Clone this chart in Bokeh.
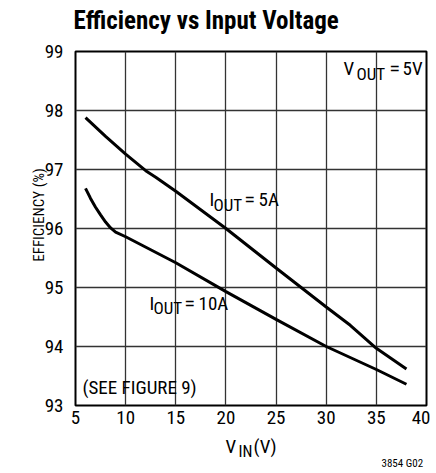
from bokeh.plotting import figure
from bokeh.models import Label, Range1d, FixedTicker
from bokeh.layouts import column
from bokeh.embed import file_html
from bokeh.resources import INLINE

# ---- data ----
vin_5a = [6, 8, 10, 12, 13, 14, 15, 20, 25, 30, 32.4, 35, 38]
eff_5a = [97.88, 97.56, 97.26, 96.98, 96.87, 96.75, 96.63, 96.0, 95.33, 94.67, 94.36, 93.97, 93.62]

vin_10a = [6, 6.5, 7, 7.5, 8, 8.5, 9, 10, 15, 20, 25, 30, 35, 38]
eff_10a = [96.68, 96.51, 96.36, 96.23, 96.11, 96.01, 95.94, 95.86, 95.42, 94.93, 94.46, 94.0, 93.61, 93.36]

x_ticks = [5, 10, 15, 20, 25, 30, 35, 40]
y_ticks = [93, 94, 95, 96, 97, 98, 99]

title_text = "Efficiency vs Input Voltage"
y_title = "EFFICIENCY (%)"

FONT = "Roboto Condensed"
EQF = "Roboto"
LIFT = 0.36  # measured vertical correction of label text placement (fraction of font size)


def lift(size):
    return LIFT * float(size.replace("px", ""))


# ---- title strip ----
t = figure(width=430, height=40, output_backend="svg", toolbar_location=None, min_border=0,
           title=None, x_range=Range1d(0, 430), y_range=Range1d(40, 0))
t.axis.visible = False
t.grid.visible = False
t.outline_line_color = None
if "frame_align" in t.properties():
    t.frame_align = False
else:
    t.x_range = Range1d(75, 426)
t.add_layout(Label(x=73, y=29 - lift("25px"), text=title_text, text_font=FONT,
                   text_font_style="bold", text_font_size="25px", text_color="black",
                   text_baseline="alphabetic"))

# ---- main plot ----
p = figure(width=430, height=396, output_backend="svg", toolbar_location=None, title=None,
           x_range=Range1d(5, 40), y_range=Range1d(93, 99),
           min_border_left=75, min_border_right=4, min_border_top=11, min_border_bottom=31)
p.outline_line_color = "black"
p.outline_line_width = 2
p.background_fill_color = "white"
p.border_fill_color = "white"

for ax in (p.xaxis, p.yaxis):
    ax.major_tick_in = 0
    ax.major_tick_out = 0
    ax.minor_tick_in = 0
    ax.minor_tick_out = 0
    ax.axis_line_color = None
    ax.major_label_text_font = FONT
    ax.major_label_text_font_size = "19px"
    ax.major_label_text_color = "black"
p.xaxis.ticker = FixedTicker(ticks=x_ticks)
p.yaxis.ticker = FixedTicker(ticks=y_ticks)
p.xaxis.major_label_standoff = 5
p.yaxis.major_label_standoff = 12
p.yaxis.axis_label = "\u2002\u2002\u2002\u2002" + y_title
p.yaxis.axis_label_text_font = FONT
p.yaxis.axis_label_text_font_size = "15px"
p.yaxis.axis_label_text_font_style = "normal"
p.yaxis.axis_label_text_color = "black"
p.yaxis.axis_label_standoff = -6

p.grid.grid_line_color = "#333333"
p.grid.grid_line_width = 1.3

p.line(vin_5a, eff_5a, line_color="black", line_width=3)
p.line(vin_10a, eff_10a, line_color="black", line_width=3)

# reference pixel -> data helpers for text placement
def X(px):
    return 5 + (px - 75) * 35 / 351

def Y(py):
    return 99 - (py - 51) * 6 / 354

pieces = [
    # V_OUT = 5V
    ("V", 343, 75, "19px", FONT), ("OUT", 356, 80, "17px", FONT),
    ("=", 389, 75, "19px", EQF), ("5V", 402, 75, "19px", FONT),
    # I_OUT = 5A
    ("I", 209, 206, "19px", FONT), ("OUT", 213, 211, "17px", FONT),
    ("=", 244, 206, "19px", EQF), ("5A", 258, 206, "19px", FONT),
    # I_OUT = 10A
    ("I", 149, 310, "19px", FONT), ("OUT", 153, 314, "17px", FONT),
    ("=", 184, 310, "19px", EQF), ("10A", 198, 310, "19px", FONT),
    # note
    ("(SEE FIGURE 9)", 82, 394, "19px", FONT),
]
# white backgrounds first, then the texts on top
for tx, px, py, s, f in pieces:
    p.add_layout(Label(x=X(px), y=Y(py - lift(s)), text=tx, text_font=f, text_font_size=s,
                       text_alpha=0, background_fill_color="white", padding=3,
                       text_baseline="alphabetic"))
for tx, px, py, s, f in pieces:
    p.add_layout(Label(x=X(px), y=Y(py - lift(s)), text=tx, text_font=f, text_font_size=s,
                       text_color="black", text_baseline="alphabetic"))

# ---- bottom strip (frame aligned with the main frame: x = reference pixels) ----
b = figure(width=430, height=36, output_backend="svg", toolbar_location=None, title=None,
           x_range=Range1d(75, 426), y_range=Range1d(36, 0), min_border=0)
b.axis.visible = False
b.grid.visible = False
b.outline_line_color = None
for tx, px, py, s in [("V", 225, 17, "19px"), ("IN", 238, 21, "16px"), ("(V)", 253, 17, "19px"),
                      ("3854 G02", 381, 31, "11px")]:
    b.add_layout(Label(x=px, y=py - lift(s), text=tx, text_font=FONT, text_font_size=s,
                       text_color="black", text_baseline="alphabetic"))

layout = column(t, p, b, spacing=0)
open("out.html", "w").write(file_html(layout, INLINE))
